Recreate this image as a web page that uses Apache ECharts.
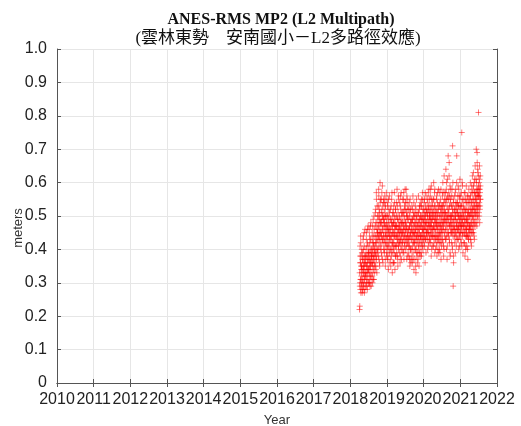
<!DOCTYPE html>
<html><head><meta charset="utf-8">
<script src="https://cdn.jsdelivr.net/npm/echarts@6/dist/echarts.min.js"></script>
<style>html,body{margin:0;padding:0;background:#fff}#c{width:521px;height:426px}</style>
</head><body><div id="c"></div>
<script>
const titleText = 'ANES-RMS MP2 (L2 Multipath)';
const subtitleText = '(雲林東勢　安南國小－L2多路徑效應)';
const xTickLabels = ['2010','2011','2012','2013','2014','2015','2016','2017','2018','2019','2020','2021','2022'];
const yTickLabels = ['0','0.1','0.2','0.3','0.4','0.5','0.6','0.7','0.8','0.9','1.0'];
// odd days (1,3,...,29) and even days (2,4,...,28) of each month
const oddDays = [1,3,5,7,9,11,13,15,17,19,21,23,25,27,29];
const evenDays = [2,4,6,8,10,12,14,16,18,20,22,24,26,28];

// ---- odd-day samples ----
// 2018: April .. December
const mp2_2018 = [
  [0.22,0.23,0.30,0.38,0.28,0.36,0.42,0.31,0.34,0.35,0.29,0.40,0.33,0.27,0.37],
  [0.31,0.39,0.28,0.35,0.44,0.33,0.37,0.30,0.41,0.27,0.36,0.34,0.46,0.32,0.38],
  [0.36,0.29,0.40,0.33,0.45,0.31,0.38,0.35,0.28,0.42,0.37,0.34,0.47,0.30,0.39],
  [0.34,0.41,0.30,0.37,0.44,0.32,0.39,0.29,0.36,0.43,0.35,0.48,0.31,0.38,0.40],
  [0.38,0.33,0.45,0.36,0.30,0.42,0.39,0.49,0.34,0.41,0.37,0.31,0.46,0.40,0.35],
  [0.41,0.36,0.47,0.39,0.52,0.34,0.44,0.38,0.55,0.42,0.33,0.48,0.40,0.45,0.50],
  [0.46,0.40,0.53,0.44,0.58,0.37,0.49,0.43,0.51,0.35,0.47,0.60,0.42,0.55,0.45],
  [0.48,0.41,0.55,0.44,0.38,0.52,0.46,0.59,0.43,0.50,0.36,0.47,0.54,0.40,0.49],
  [0.45,0.51,0.39,0.48,0.56,0.42,0.47,0.35,0.53,0.44,0.50,0.41,0.57,0.46,0.38]
];
// 2019: January .. December
const mp2_2019 = [
  [0.43,0.50,0.37,0.46,0.54,0.40,0.48,0.34,0.45,0.52,0.41,0.47,0.56,0.39,0.44],
  [0.46,0.40,0.52,0.35,0.44,0.49,0.38,0.55,0.42,0.47,0.33,0.45,0.51,0.41,0.48],
  [0.42,0.48,0.36,0.53,0.45,0.39,0.57,0.44,0.50,0.34,0.47,0.41,0.52,0.38,0.46],
  [0.47,0.41,0.54,0.44,0.58,0.38,0.49,0.43,0.35,0.51,0.46,0.40,0.55,0.45,0.42],
  [0.44,0.50,0.39,0.47,0.36,0.53,0.43,0.56,0.41,0.48,0.45,0.37,0.51,0.46,0.42],
  [0.48,0.42,0.55,0.45,0.39,0.51,0.47,0.57,0.37,0.44,0.52,0.41,0.49,0.46,0.54],
  [0.45,0.52,0.40,0.48,0.58,0.43,0.50,0.37,0.46,0.55,0.42,0.49,0.44,0.53,0.39],
  [0.43,0.49,0.38,0.46,0.54,0.41,0.47,0.35,0.51,0.44,0.40,0.52,0.45,0.37,0.48],
  [0.46,0.40,0.53,0.43,0.36,0.49,0.45,0.56,0.39,0.47,0.42,0.51,0.34,0.44,0.50],
  [0.42,0.48,0.37,0.45,0.53,0.40,0.46,0.33,0.50,0.43,0.55,0.39,0.47,0.44,0.36],
  [0.45,0.39,0.51,0.43,0.56,0.41,0.48,0.35,0.46,0.52,0.42,0.49,0.38,0.54,0.44],
  [0.47,0.53,0.41,0.49,0.38,0.55,0.44,0.50,0.43,0.57,0.46,0.40,0.52,0.45,0.48]
];
// 2020: January .. December
const mp2_2020 = [
  [0.46,0.52,0.42,0.49,0.55,0.44,0.50,0.36,0.47,0.53,0.43,0.48,0.56,0.45,0.51],
  [0.48,0.44,0.54,0.46,0.40,0.51,0.49,0.57,0.45,0.52,0.42,0.47,0.55,0.43,0.50],
  [0.47,0.53,0.42,0.49,0.58,0.45,0.51,0.38,0.48,0.55,0.44,0.50,0.41,0.54,0.46],
  [0.49,0.44,0.55,0.47,0.60,0.42,0.51,0.46,0.57,0.39,0.48,0.53,0.45,0.50,0.43],
  [0.46,0.52,0.41,0.48,0.56,0.38,0.49,0.44,0.54,0.47,0.40,0.51,0.45,0.58,0.43],
  [0.47,0.42,0.53,0.45,0.57,0.39,0.50,0.44,0.55,0.48,0.37,0.51,0.46,0.43,0.52],
  [0.50,0.45,0.56,0.48,0.60,0.42,0.53,0.47,0.38,0.51,0.40,0.57,0.49,0.55,0.44],
  [0.48,0.54,0.43,0.51,0.64,0.46,0.58,0.40,0.50,0.55,0.37,0.49,0.61,0.45,0.52],
  [0.68,0.51,0.44,0.57,0.48,0.66,0.42,0.53,0.47,0.59,0.38,0.50,0.55,0.45,0.49],
  [0.47,0.53,0.42,0.50,0.58,0.45,0.40,0.71,0.52,0.48,0.29,0.55,0.36,0.46,0.51],
  [0.49,0.44,0.56,0.47,0.52,0.39,0.50,0.58,0.45,0.53,0.41,0.48,0.68,0.54,0.46],
  [0.48,0.54,0.43,0.51,0.59,0.46,0.50,0.40,0.53,0.47,0.56,0.44,0.49,0.61,0.45]
];
// 2021: January .. July (July up to day 19)
const mp2_2021 = [
  [0.50,0.45,0.56,0.48,0.42,0.53,0.47,0.75,0.51,0.60,0.44,0.49,0.55,0.39,0.52],
  [0.47,0.53,0.42,0.50,0.57,0.45,0.49,0.38,0.52,0.46,0.55,0.41,0.48,0.59,0.44],
  [0.46,0.52,0.41,0.49,0.56,0.44,0.50,0.37,0.48,0.54,0.43,0.51,0.58,0.45,0.47],
  [0.50,0.46,0.55,0.48,0.60,0.43,0.52,0.47,0.57,0.41,0.51,0.54,0.45,0.49,0.62],
  [0.52,0.47,0.58,0.50,0.63,0.45,0.55,0.49,0.60,0.43,0.53,0.57,0.48,0.65,0.51],
  [0.55,0.50,0.61,0.70,0.53,0.58,0.47,0.69,0.56,0.52,0.64,0.49,0.57,0.62,0.81],
  [0.56,0.51,0.60,0.54,0.65,0.48,0.58,0.53,0.62,0.55]
];

// ---- even-day samples ----
const mp2_2018b = [
  [0.33,0.29,0.41,0.36,0.31,0.44,0.27,0.38,0.32,0.35,0.30,0.39,0.34,0.28],
  [0.37,0.30,0.43,0.34,0.29,0.40,0.35,0.32,0.45,0.31,0.38,0.28,0.36,0.33],
  [0.32,0.38,0.30,0.43,0.35,0.29,0.41,0.36,0.33,0.46,0.31,0.39,0.34,0.37],
  [0.39,0.33,0.46,0.35,0.30,0.42,0.37,0.34,0.47,0.32,0.40,0.36,0.29,0.38],
  [0.36,0.43,0.32,0.40,0.47,0.35,0.38,0.44,0.31,0.42,0.37,0.50,0.33,0.39],
  [0.44,0.38,0.51,0.42,0.35,0.48,0.40,0.57,0.37,0.46,0.43,0.53,0.39,0.45],
  [0.43,0.50,0.38,0.47,0.56,0.41,0.52,0.45,0.36,0.49,0.44,0.54,0.40,0.48],
  [0.45,0.51,0.39,0.48,0.57,0.43,0.50,0.37,0.46,0.53,0.42,0.49,0.44,0.55],
  [0.49,0.43,0.54,0.40,0.47,0.52,0.37,0.45,0.50,0.42,0.55,0.44,0.48,0.39]
];
const mp2_2019b = [
  [0.47,0.41,0.53,0.44,0.38,0.50,0.46,0.55,0.42,0.49,0.36,0.45,0.51,0.43],
  [0.43,0.49,0.37,0.46,0.53,0.40,0.48,0.44,0.57,0.39,0.47,0.42,0.50,0.36],
  [0.45,0.40,0.51,0.43,0.48,0.36,0.46,0.54,0.41,0.49,0.44,0.38,0.52,0.47],
  [0.44,0.50,0.39,0.47,0.42,0.53,0.45,0.37,0.49,0.43,0.56,0.41,0.48,0.46],
  [0.47,0.42,0.54,0.45,0.49,0.38,0.46,0.52,0.43,0.57,0.40,0.48,0.44,0.50],
  [0.45,0.51,0.40,0.48,0.43,0.55,0.46,0.39,0.50,0.44,0.53,0.42,0.47,0.58],
  [0.48,0.43,0.54,0.46,0.41,0.51,0.47,0.56,0.44,0.38,0.50,0.45,0.52,0.42],
  [0.46,0.41,0.52,0.44,0.50,0.37,0.47,0.43,0.55,0.40,0.48,0.45,0.36,0.49],
  [0.43,0.48,0.38,0.46,0.52,0.41,0.49,0.44,0.37,0.50,0.45,0.54,0.42,0.47],
  [0.45,0.40,0.51,0.43,0.48,0.35,0.46,0.52,0.41,0.49,0.44,0.38,0.50,0.47],
  [0.42,0.48,0.37,0.46,0.51,0.44,0.40,0.49,0.45,0.53,0.39,0.47,0.43,0.50],
  [0.44,0.50,0.39,0.47,0.53,0.42,0.48,0.45,0.55,0.41,0.49,0.46,0.51,0.43]
];
const mp2_2020b = [
  [0.49,0.44,0.54,0.47,0.41,0.51,0.46,0.57,0.43,0.50,0.48,0.39,0.52,0.45],
  [0.46,0.52,0.43,0.50,0.55,0.45,0.48,0.41,0.53,0.47,0.58,0.44,0.49,0.51],
  [0.50,0.45,0.56,0.47,0.43,0.52,0.48,0.59,0.46,0.40,0.53,0.49,0.44,0.51],
  [0.46,0.52,0.41,0.50,0.55,0.47,0.44,0.53,0.49,0.58,0.43,0.51,0.48,0.40],
  [0.49,0.44,0.55,0.47,0.51,0.42,0.50,0.46,0.57,0.43,0.52,0.48,0.39,0.53],
  [0.44,0.50,0.40,0.48,0.54,0.46,0.42,0.52,0.47,0.58,0.45,0.49,0.41,0.53],
  [0.47,0.53,0.43,0.51,0.57,0.46,0.49,0.41,0.54,0.48,0.62,0.45,0.52,0.50],
  [0.51,0.46,0.57,0.49,0.43,0.55,0.48,0.60,0.44,0.53,0.47,0.41,0.56,0.50],
  [0.49,0.55,0.45,0.52,0.62,0.47,0.43,0.56,0.50,0.39,0.54,0.48,0.58,0.46],
  [0.50,0.45,0.56,0.48,0.53,0.41,0.51,0.46,0.60,0.44,0.49,0.38,0.54,0.47],
  [0.46,0.52,0.42,0.50,0.57,0.45,0.49,0.54,0.43,0.51,0.47,0.60,0.44,0.52],
  [0.51,0.46,0.56,0.49,0.43,0.53,0.47,0.58,0.45,0.50,0.41,0.55,0.48,0.52]
];
const mp2_2021b = [
  [0.47,0.53,0.43,0.50,0.57,0.46,0.49,0.41,0.54,0.48,0.59,0.45,0.51,0.47],
  [0.50,0.45,0.55,0.48,0.42,0.52,0.47,0.57,0.44,0.51,0.40,0.49,0.54,0.46],
  [0.49,0.44,0.54,0.47,0.51,0.40,0.48,0.56,0.45,0.52,0.43,0.50,0.46,0.55],
  [0.47,0.53,0.44,0.51,0.56,0.46,0.50,0.42,0.54,0.48,0.59,0.45,0.52,0.57],
  [0.50,0.55,0.46,0.53,0.59,0.48,0.52,0.44,0.57,0.51,0.61,0.47,0.54,0.56],
  [0.52,0.57,0.48,0.55,0.60,0.51,0.54,0.66,0.50,0.58,0.53,0.63,0.56,0.59],
  [0.53,0.58,0.50,0.56,0.61,0.52,0.57,0.55,0.59]
];

function toPoints(year, firstMonth, months, days) {
  const pts = [];
  months.forEach(function (vals, mi) {
    const month = firstMonth + mi;
    const dim = new Date(year, month, 0).getDate();
    vals.forEach(function (v, i) {
      const day = days[i];
      pts.push([year + (month - 1 + (day - 0.5) / dim) / 12, v]);
    });
  });
  return pts;
}
const points = [].concat(
  toPoints(2018, 4, mp2_2018, oddDays), toPoints(2018, 4, mp2_2018b, evenDays),
  toPoints(2019, 1, mp2_2019, oddDays), toPoints(2019, 1, mp2_2019b, evenDays),
  toPoints(2020, 1, mp2_2020, oddDays), toPoints(2020, 1, mp2_2020b, evenDays),
  toPoints(2021, 1, mp2_2021, oddDays), toPoints(2021, 1, mp2_2021b, evenDays)
);

const axisColor = '#555';
const chart = echarts.init(document.getElementById('c'), null, {renderer: 'canvas'});
chart.setOption({
  animation: false,
  backgroundColor: '#fff',
  title: [
    {text: titleText, left: 281, top: 12, textAlign: 'center', padding: 0,
     textStyle: {fontFamily: "'Liberation Serif', serif", fontSize: 16, fontWeight: 'bold', color: '#111'}},
    {text: subtitleText, left: 278, top: 30, textAlign: 'center', padding: 0,
     textStyle: {fontFamily: "'Liberation Serif', 'Noto Sans CJK TC', serif", fontSize: 17, fontWeight: 'normal', color: '#111'}}
  ],
  grid: {left: 57, right: 24, top: 49, bottom: 43, containLabel: false, outerBoundsMode: 'none'},
  xAxis: [
    {type: 'value', min: 2010, max: 2022, interval: 1, position: 'bottom',
     name: 'Year', nameLocation: 'middle', nameGap: 31, nameMoveOverlap: false,
     nameTextStyle: {fontFamily: "'Liberation Sans', Arial, sans-serif", fontSize: 13, color: '#333'},
     axisLine: {show: true, lineStyle: {color: axisColor, width: 1}},
     axisTick: {show: true, inside: true, length: 4, lineStyle: {color: axisColor}},
     axisLabel: {margin: 9, fontFamily: "'Liberation Sans', Arial, sans-serif", fontSize: 16, color: '#222',
       showMinLabel: true, showMaxLabel: true,
       formatter: function (v) { return xTickLabels[Math.round(v - 2010)]; }},
     splitLine: {show: true, lineStyle: {color: '#e6e6e6', width: 1}}},
    {type: 'value', min: 2010, max: 2022, interval: 1, position: 'top',
     axisLine: {show: true, lineStyle: {color: axisColor, width: 1}},
     axisTick: {show: true, inside: true, length: 4, lineStyle: {color: axisColor}},
     axisLabel: {show: false}, splitLine: {show: false}}
  ],
  yAxis: [
    {type: 'value', min: 0, max: 1, interval: 0.1, position: 'left',
     name: 'meters', nameLocation: 'middle', nameGap: 32, nameRotate: 90, nameMoveOverlap: false,
     nameTextStyle: {fontFamily: "'Liberation Sans', Arial, sans-serif", fontSize: 13, color: '#333', padding: [0, 24, 0, 0]},
     axisLine: {show: true, lineStyle: {color: axisColor, width: 1}},
     axisTick: {show: true, inside: true, length: 4, lineStyle: {color: axisColor}},
     axisLabel: {margin: 10, fontFamily: "'Liberation Sans', Arial, sans-serif", fontSize: 16, color: '#222',
       showMinLabel: true, showMaxLabel: true,
       formatter: function (v) { return yTickLabels[Math.round(v * 10)]; }},
     splitLine: {show: true, lineStyle: {color: '#e6e6e6', width: 1}}},
    {type: 'value', min: 0, max: 1, interval: 0.1, position: 'right',
     axisLine: {show: true, lineStyle: {color: axisColor, width: 1}},
     axisTick: {show: true, inside: true, length: 4, lineStyle: {color: axisColor}},
     axisLabel: {show: false}, splitLine: {show: false}}
  ],
  series: [{
    type: 'scatter', xAxisIndex: 0, yAxisIndex: 0,
    data: points,
    symbol: 'path://M0,5L10,5M5,0L5,10',
    symbolSize: 6,
    itemStyle: {color: 'rgba(0,0,0,0)', borderColor: 'rgba(255,0,0,0.65)', borderWidth: 1},
    emphasis: {disabled: true}
  }]
});
</script>
</body></html>
